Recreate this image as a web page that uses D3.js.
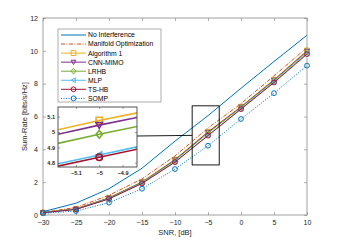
<!DOCTYPE html>
<html>
<head>
<meta charset="utf-8">
<script src="https://cdn.jsdelivr.net/npm/d3@7"></script>
<style>
  body { margin: 0; background: #fff; }
  text { font-family: "Liberation Sans", Arial, sans-serif; }
</style>
</head>
<body>
<div id="chart"></div>
<script>
const width = 339;
const height = 242;

// data
const snr = [-30, -25, -20, -15, -10, -5, 0, 5, 10];
const noInterference = [0.2, 0.72, 1.6, 2.85, 4.5, 6.05, 7.72, 9.35, 10.95];
const manifold = [0.16, 0.46, 1.2, 2.2, 3.6, 5.3, 6.78, 8.48, 10.2];
const algorithm1 = [0.15, 0.38, 1.05, 2.02, 3.38, 5.075, 6.6, 8.25, 10.02];
const cnnMimo = [0.15, 0.37, 1.04, 2.0, 3.36, 5.045, 6.58, 8.22, 9.98];
const lrhb = [0.15, 0.36, 1.02, 1.98, 3.32, 4.985, 6.55, 8.18, 9.93];
const mlp = [0.14, 0.35, 0.99, 1.94, 3.25, 4.85, 6.48, 8.1, 9.85];
const tshb = [0.14, 0.34, 0.98, 1.92, 3.22, 4.835, 6.45, 8.07, 9.8];
const somp = [0.1, 0.24, 0.75, 1.6, 2.8, 4.22, 5.85, 7.42, 9.1];

const xTicks = [-30, -25, -20, -15, -10, -5, 0, 5, 10];
const yTicks = [0, 2, 4, 6, 8, 10, 12];
const insetXTicks = [-5.1, -5, -4.9];
const insetYTicks = [4.8, 4.9, 5, 5.1];

// zoom box drawn on the main axes (data units)
const zoomBox = {x0: -7.4, x1: -3.3, y0: 3.05, y1: 6.65};

const series = [
    {name: "No Interference", values: noInterference, color: "#0072BD", dash: null, marker: null},
    {name: "Manifold Optimization", values: manifold, color: "#D95319", dash: "4,1.5,1,1.5", marker: null},
    {name: "Algorithm 1", values: algorithm1, color: "#EDB120", dash: null, marker: "square"},
    {name: "CNN-MIMO", values: cnnMimo, color: "#7E2F8E", dash: null, marker: "triDown"},
    {name: "LRHB", values: lrhb, color: "#77AC30", dash: null, marker: "diamond"},
    {name: "MLP", values: mlp, color: "#4DBEEE", dash: null, marker: "triLeft"},
    {name: "TS-HB", values: tshb, color: "#A2142F", dash: null, marker: "circle"},
    {name: "SOMP", values: somp, color: "#0072BD", dash: "1,1.5", marker: "circle"}
];

const svg = d3.select("#chart").append("svg")
    .attr("width", width)
    .attr("height", height);

const x = d3.scaleLinear().domain([-30, 10]).range([43, 307]);
const y = d3.scaleLinear().domain([0, 12]).range([215, 18]);

const axisColor = "#262626";

// marker path for a given shape centred at 0,0
function markerPath(type, r) {
    if (type === "square") return `M${-r},${-r}H${r}V${r}H${-r}Z`;
    if (type === "circle") return d3.symbol(d3.symbolCircle, Math.PI * r * r)();
    if (type === "diamond") return `M0,${-r * 1.2}L${r},0L0,${r * 1.2}L${-r},0Z`;
    if (type === "triDown") return `M${-r},${-r * 0.8}H${r}L0,${r}Z`;
    if (type === "triLeft") return `M${-r},0L${r * 0.8},${-r}V${r}Z`;
    return "";
}

function drawSeries(g, xs, ys, r, lw) {
    const line = d3.line().x((d, i) => xs(snr[i])).y(d => ys(d));
    series.forEach(s => {
        g.append("path")
            .attr("d", line(s.values))
            .attr("fill", "none")
            .attr("stroke", s.color)
            .attr("stroke-width", lw)
            .attr("stroke-dasharray", s.dash);
        if (s.marker) {
            g.selectAll(null)
                .data(s.values)
                .join("path")
                .attr("transform", (d, i) => `translate(${xs(snr[i])},${ys(d)})`)
                .attr("d", markerPath(s.marker, r))
                .attr("fill", "none")
                .attr("stroke", s.color)
                .attr("stroke-width", lw);
        }
    });
}

// main axes frame
const [px0, px1] = x.range();
const [py0, py1] = [y(12), y(0)];
svg.append("rect")
    .attr("x", px0).attr("y", py0)
    .attr("width", px1 - px0).attr("height", py1 - py0)
    .attr("fill", "#fff");

svg.append("g")
    .attr("transform", `translate(0,${py1})`)
    .call(d3.axisBottom(x).tickValues(xTicks).tickSizeInner(-3).tickSizeOuter(0).tickPadding(5))
    .call(g => g.select(".domain").remove());
svg.append("g")
    .attr("transform", `translate(0,${py0})`)
    .call(d3.axisTop(x).tickValues(xTicks).tickSizeInner(-3).tickSizeOuter(0).tickFormat(""))
    .call(g => g.select(".domain").remove());
svg.append("g")
    .attr("transform", `translate(${px0},0)`)
    .call(d3.axisLeft(y).tickValues(yTicks).tickSizeInner(-3).tickSizeOuter(0).tickPadding(5))
    .call(g => g.select(".domain").remove());
svg.append("g")
    .attr("transform", `translate(${px1},0)`)
    .call(d3.axisRight(y).tickValues(yTicks).tickSizeInner(-3).tickSizeOuter(0).tickFormat(""))
    .call(g => g.select(".domain").remove());

svg.selectAll(".tick line").attr("stroke", "#777").attr("stroke-width", 0.6);
svg.selectAll(".tick text").attr("fill", axisColor).style("font-size", "7px");

// lines and markers
drawSeries(svg.append("g"), x, y, 2.4, 1);

svg.append("rect")
    .attr("x", px0).attr("y", py0)
    .attr("width", px1 - px0).attr("height", py1 - py0)
    .attr("fill", "none")
    .attr("stroke", "#8a8a8a")
    .attr("stroke-width", 0.8);

// axis labels
svg.append("text")
    .attr("x", (px0 + px1) / 2).attr("y", 235)
    .attr("text-anchor", "middle")
    .attr("fill", axisColor)
    .style("font-size", "7.5px")
    .text("SNR, [dB]");
svg.append("text")
    .attr("transform", `translate(27,${(py0 + py1) / 2}) rotate(-90)`)
    .attr("text-anchor", "middle")
    .attr("fill", axisColor)
    .style("font-size", "7.5px")
    .text("Sum-Rate [bits/s/Hz]");

// zoom rectangle on main axes
svg.append("rect")
    .attr("x", x(zoomBox.x0)).attr("y", y(zoomBox.y1))
    .attr("width", x(zoomBox.x1) - x(zoomBox.x0))
    .attr("height", y(zoomBox.y0) - y(zoomBox.y1))
    .attr("fill", "none")
    .attr("stroke", "#000")
    .attr("stroke-width", 0.9);

// legend
const legend = svg.append("g");
legend.append("rect")
    .attr("x", 58).attr("y", 29)
    .attr("width", 103).attr("height", 73)
    .attr("fill", "#fff")
    .attr("stroke", "#8a8a8a")
    .attr("stroke-width", 0.7);
series.forEach((s, i) => {
    const ly = 35 + i * 9.05;
    legend.append("line")
        .attr("x1", 61).attr("x2", 86)
        .attr("y1", ly).attr("y2", ly)
        .attr("stroke", s.color)
        .attr("stroke-width", 1)
        .attr("stroke-dasharray", s.dash);
    if (s.marker) {
        legend.append("path")
            .attr("transform", `translate(73.5,${ly})`)
            .attr("d", markerPath(s.marker, 2.4))
            .attr("fill", "none")
            .attr("stroke", s.color)
            .attr("stroke-width", 1);
    }
    legend.append("text")
        .attr("x", 88).attr("y", ly + 2.4)
        .attr("fill", "#000")
        .style("font-size", "6.8px")
        .text(s.name);
});

// inset axes
const ix = d3.scaleLinear().domain([-5.177, -4.838]).range([58, 137]);
const iy = d3.scaleLinear().domain([4.772, 5.163]).range([167, 107]);

// connector from inset to zoom box
svg.append("line")
    .attr("x1", 137).attr("y1", (107 + 167) / 2 - 1)
    .attr("x2", x(zoomBox.x0)).attr("y2", (y(zoomBox.y0) + y(zoomBox.y1)) / 2)
    .attr("stroke", "#000")
    .attr("stroke-width", 0.9);

const inset = svg.append("g");
inset.append("rect")
    .attr("x", 58).attr("y", 107)
    .attr("width", 79).attr("height", 60)
    .attr("fill", "#fff");

svg.append("clipPath").attr("id", "insetClip")
    .append("rect")
    .attr("x", 58).attr("y", 107)
    .attr("width", 79).attr("height", 60);

drawSeries(inset.append("g").attr("clip-path", "url(#insetClip)"), ix, iy, 3.2, 1.6);

inset.append("g")
    .attr("transform", "translate(0,167)")
    .call(d3.axisBottom(ix).tickValues(insetXTicks).tickSizeInner(-2).tickSizeOuter(0).tickPadding(4)
        .tickFormat(d3.format("")))
    .call(g => g.select(".domain").remove());
inset.append("g")
    .attr("transform", "translate(0,107)")
    .call(d3.axisTop(ix).tickValues(insetXTicks).tickSizeInner(-2).tickSizeOuter(0).tickFormat(""))
    .call(g => g.select(".domain").remove());
inset.append("g")
    .attr("transform", "translate(58,0)")
    .call(d3.axisLeft(iy).tickValues(insetYTicks).tickSizeInner(-2).tickSizeOuter(0).tickPadding(3)
        .tickFormat(d3.format("")))
    .call(g => g.select(".domain").remove());
inset.append("g")
    .attr("transform", "translate(137,0)")
    .call(d3.axisRight(iy).tickValues(insetYTicks).tickSizeInner(-2).tickSizeOuter(0).tickFormat(""))
    .call(g => g.select(".domain").remove());

inset.selectAll(".tick line").attr("stroke", "#555").attr("stroke-width", 0.6);
inset.selectAll(".tick text")
    .attr("fill", axisColor)
    .style("font-size", "5.5px")
    .style("font-weight", "bold");

inset.append("rect")
    .attr("x", 58).attr("y", 107)
    .attr("width", 79).attr("height", 60)
    .attr("fill", "none")
    .attr("stroke", "#555")
    .attr("stroke-width", 1);
</script>
</body>
</html>
